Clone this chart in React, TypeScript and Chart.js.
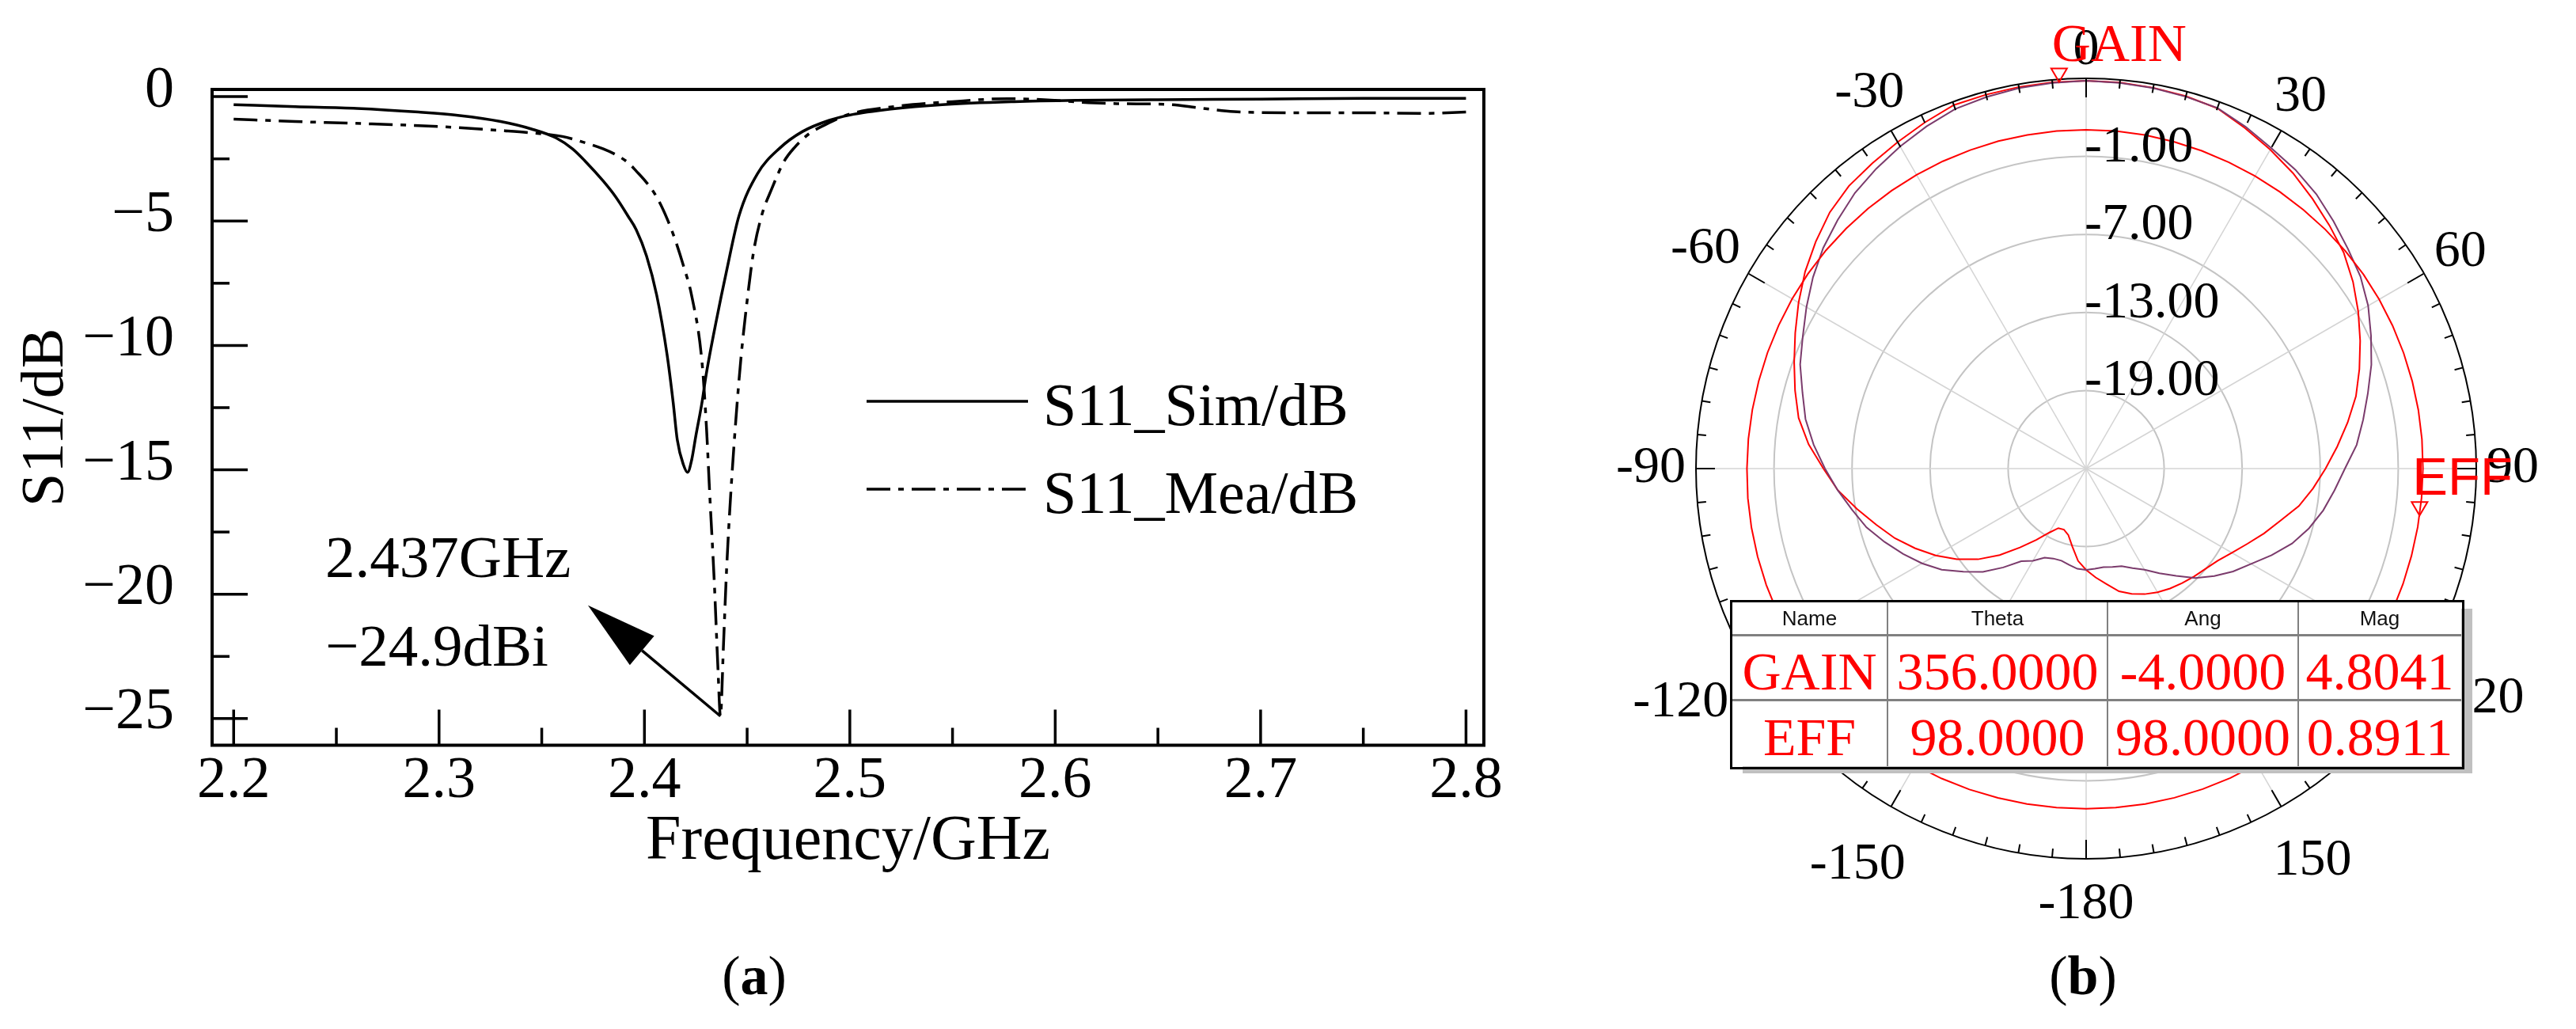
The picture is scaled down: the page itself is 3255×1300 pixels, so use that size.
import React, { useEffect, useRef } from 'react';
import { Chart, registerables } from 'chart.js';

Chart.register(...registerables);

const SERIF = '"Liberation Serif", "Times New Roman", serif';
const SANS = '"Liberation Sans", Arial, sans-serif';

// ---------------- Panel (a): S11 vs frequency ----------------
const freqSim = [2.2, 2.23, 2.26, 2.29, 2.31, 2.33, 2.345, 2.357, 2.365, 2.371, 2.38, 2.386, 2.392, 2.396, 2.401, 2.406, 2.411, 2.414, 2.416, 2.419, 2.421, 2.423, 2.425, 2.428, 2.43, 2.435, 2.44, 2.446, 2.455, 2.466, 2.477, 2.49, 2.5, 2.52, 2.545, 2.58, 2.61, 2.65, 2.7, 2.75, 2.8];
const s11Sim = [-0.32, -0.4, -0.47, -0.62, -0.76, -1.0, -1.3, -1.66, -2.1, -2.58, -3.4, -4.03, -4.8, -5.35, -6.4, -7.99, -10.36, -12.3, -13.8, -14.8, -15.1, -14.6, -13.65, -12.3, -11.2, -9.0, -7.0, -4.8, -3.1, -2.06, -1.4, -0.95, -0.74, -0.5, -0.32, -0.2, -0.15, -0.12, -0.1, -0.07, -0.07];

const freqMea = [2.2, 2.23, 2.258, 2.3, 2.332, 2.347, 2.36, 2.369, 2.38, 2.386, 2.392, 2.396, 2.401, 2.406, 2.411, 2.415, 2.419, 2.423, 2.428, 2.4302, 2.4318, 2.434, 2.4358, 2.437, 2.4385, 2.44, 2.442, 2.4445, 2.447, 2.45, 2.453, 2.457, 2.462, 2.468, 2.473, 2.48, 2.488, 2.5, 2.5215, 2.55, 2.577, 2.6, 2.61, 2.63, 2.654, 2.67, 2.687, 2.72, 2.75, 2.78, 2.8];
const s11Mea = [-0.9, -1.0, -1.07, -1.2, -1.37, -1.47, -1.6, -1.8, -2.1, -2.33, -2.65, -2.99, -3.45, -4.04, -4.9, -5.76, -6.8, -8.0, -10.65, -13.3, -16.0, -19.5, -23.0, -24.9, -22.0, -19.0, -16.0, -13.0, -10.5, -8.2, -6.3, -4.8, -3.7, -2.6, -2.05, -1.5, -1.13, -0.7, -0.4, -0.2, -0.08, -0.15, -0.21, -0.28, -0.31, -0.45, -0.6, -0.65, -0.65, -0.67, -0.62];

const seriesNames = ['S11_Sim/dB', 'S11_Mea/dB'];
const xTicks = [2.2, 2.3, 2.4, 2.5, 2.6, 2.7, 2.8];
const xMinorTicks = [2.25, 2.35, 2.45, 2.55, 2.65, 2.75];
const yTicks = [0, -5, -10, -15, -20, -25];
const yMinorTicks = [-2.5, -7.5, -12.5, -17.5, -22.5];
const xRange = [2.1895, 2.8087];
const yRange = [-26.07, 0.29];
const arrowTail = [2.437, -24.9];
const arrowTip = [2.3725, -20.45];
const annotationText = ['2.437GHz', '\u221224.9dBi'];
const dashDot = [30, 10, 7, 10];

const fmtMinus = (v: number) => (v < 0 ? '\u2212' + Math.abs(v) : String(v));

const panelAPlugin = {
  id: 'panelADeco',
  afterDraw(chart: any) {
    const { ctx, chartArea: ca } = chart;
    const xs = chart.scales.x;
    const ys = chart.scales.y;
    ctx.save();
    ctx.strokeStyle = '#000';
    ctx.fillStyle = '#000';
    ctx.lineCap = 'butt';
    // frame
    ctx.lineWidth = 4;
    ctx.strokeRect(ca.left, ca.top, ca.right - ca.left, ca.bottom - ca.top);
    // inward ticks
    ctx.lineWidth = 3.5;
    const seg = (x1: number, y1: number, x2: number, y2: number) => {
      ctx.beginPath();
      ctx.moveTo(x1, y1);
      ctx.lineTo(x2, y2);
      ctx.stroke();
    };
    yTicks.forEach((v) => { const p = ys.getPixelForValue(v); seg(ca.left, p, ca.left + 45, p); });
    yMinorTicks.forEach((v) => { const p = ys.getPixelForValue(v); seg(ca.left, p, ca.left + 22, p); });
    xTicks.forEach((v) => { const p = xs.getPixelForValue(v); seg(p, ca.bottom, p, ca.bottom - 45); });
    xMinorTicks.forEach((v) => { const p = xs.getPixelForValue(v); seg(p, ca.bottom, p, ca.bottom - 22); });

    // legend
    const lx0 = 1095, lx1 = 1299, ly = [507, 618];
    ctx.font = `76px ${SERIF}`;
    ctx.textAlign = 'left';
    ctx.textBaseline = 'alphabetic';
    seriesNames.forEach((name, i) => {
      ctx.setLineDash(i === 0 ? [] : dashDot);
      ctx.lineWidth = 3.5;
      seg(lx0, ly[i], lx1, ly[i]);
      ctx.setLineDash([]);
      ctx.fillText(name, 1318, ly[i] + 30);
    });

    // annotation arrow
    const t = { x: xs.getPixelForValue(arrowTail[0]), y: ys.getPixelForValue(arrowTail[1]) };
    const h = { x: xs.getPixelForValue(arrowTip[0]), y: ys.getPixelForValue(arrowTip[1]) };
    const ang = Math.atan2(h.y - t.y, h.x - t.x);
    const L = 89, W = 24;
    const bx = h.x - L * Math.cos(ang);
    const by = h.y - L * Math.sin(ang);
    ctx.lineWidth = 3.5;
    seg(t.x, t.y, bx, by);
    ctx.beginPath();
    ctx.moveTo(h.x, h.y);
    ctx.lineTo(bx + W * Math.sin(ang), by - W * Math.cos(ang));
    ctx.lineTo(bx - W * Math.sin(ang), by + W * Math.cos(ang));
    ctx.closePath();
    ctx.fill();

    ctx.font = `75px ${SERIF}`;
    ctx.fillText(annotationText[0], 411, 729);
    ctx.fillText(annotationText[1], 411, 841);
    ctx.restore();
  },
};

function PanelA() {
  const ref = useRef<HTMLCanvasElement>(null);
  useEffect(() => {
    const chart = new Chart(ref.current as HTMLCanvasElement, {
      type: 'line',
      data: {
        datasets: [
          {
            label: seriesNames[0],
            data: freqSim.map((f, i) => ({ x: f, y: s11Sim[i] })),
            borderColor: '#000',
            backgroundColor: '#000',
            borderWidth: 3.5,
            pointRadius: 0,
            cubicInterpolationMode: 'monotone',
          },
          {
            label: seriesNames[1],
            data: freqMea.map((f, i) => ({ x: f, y: s11Mea[i] })),
            borderColor: '#000',
            backgroundColor: '#000',
            borderWidth: 3.5,
            borderDash: dashDot,
            pointRadius: 0,
            cubicInterpolationMode: 'monotone',
          },
        ],
      },
      options: {
        responsive: false,
        animation: false,
        layout: { padding: { left: 0, top: 113, right: 75, bottom: 0 } },
        plugins: { legend: { display: false }, tooltip: { enabled: false } },
        scales: {
          x: {
            type: 'linear',
            min: xRange[0],
            max: xRange[1],
            afterBuildTicks: (s: any) => { s.ticks = xTicks.map((v) => ({ value: v })); },
            afterFit: (s: any) => { s.height = 358.5; },
            grid: { display: false, drawTicks: false },
            border: { display: false },
            ticks: {
              autoSkip: false,
              maxRotation: 0,
              padding: 2,
              color: '#000',
              font: { family: SERIF, size: 74 },
              callback: (v: any) => Number(v).toFixed(1),
            },
            title: {
              display: true,
              text: 'Frequency/GHz',
              color: '#000',
              font: { family: SERIF, size: 80 },
              padding: { top: 0, bottom: 188 },
            },
          },
          y: {
            type: 'linear',
            min: yRange[0],
            max: yRange[1],
            afterBuildTicks: (s: any) => { s.ticks = yTicks.map((v) => ({ value: v })); },
            afterFit: (s: any) => { s.width = 268; },
            grid: { display: false, drawTicks: false },
            border: { display: false },
            ticks: {
              autoSkip: false,
              padding: 48,
              labelOffset: -7,
              color: '#000',
              font: { family: SERIF, size: 74 },
              callback: (v: any) => fmtMinus(Number(v)),
            },
            title: {
              display: true,
              text: 'S11/dB',
              color: '#000',
              font: { family: SERIF, size: 76 },
              padding: { top: 13, bottom: 0 },
            },
          },
        },
      } as any,
      plugins: [panelAPlugin],
    });
    return () => chart.destroy();
  }, []);
  return <canvas ref={ref} width={1950} height={1300} style={{ position: 'absolute', left: 0, top: 0 }} />;
}

// ---------------- Panel (b): polar radiation pattern ----------------
const polarAngles = [0, 5, 10, 15, 20, 25, 30, 35, 40, 45, 50, 55, 60, 65, 70, 75, 80, 85, 90, 95, 100, 105, 110, 115, 120, 125, 130, 135, 140, 145, 150, 155, 160, 165, 170, 175, -180, -175, -170, -165, -160, -155, -150, -145, -140, -135, -130, -125, -120, -115, -110, -105, -100, -95, -90, -85, -80, -75, -70, -65, -60, -55, -50, -45, -40, -35, -30, -25, -20, -15, -10, -5];

const gainCut = [4.82, 4.79, 4.73, 4.64, 4.48, 3.89, 3.31, 2.73, 2.08, 1.45, 0.85, 0.05, -0.84, -1.75, -2.64, -3.52, -4.58, -5.62, -6.59, -7.49, -8.39, -9.53, -10.44, -11.32, -12.06, -12.65, -13.02, -13.27, -13.51, -13.75, -14.02, -14.35, -14.76, -15.23, -15.99, -16.6, -17.21, -17.88, -18.91, -19.71, -20.01, -19.95, -19.31, -18.31, -17.09, -15.6, -14.15, -12.86, -11.64, -10.5, -9.35, -8.3, -7.11, -5.84, -4.8, -3.58, -2.55, -1.83, -1.11, -0.32, 0.53, 1.38, 2.14, 2.87, 3.37, 3.66, 3.98, 4.36, 4.74, 4.76, 4.79, 4.81];

const gainCut2 = [4.82, 4.76, 4.7, 4.6, 4.51, 4.0, 3.46, 3.05, 2.54, 1.9, 1.28, 0.75, 0.04, -0.83, -1.66, -2.57, -3.37, -4.12, -5.1, -5.83, -6.49, -7.26, -8.15, -9.26, -10.35, -11.21, -12.14, -13.11, -14.23, -15.18, -16.02, -16.55, -17.02, -17.17, -17.3, -17.27, -17.21, -17.27, -17.48, -17.67, -17.64, -17.45, -16.82, -16.3, -15.08, -13.77, -12.68, -11.44, -10.43, -9.48, -8.51, -7.52, -6.73, -5.83, -4.92, -3.97, -3.09, -2.42, -1.6, -0.96, -0.17, 0.64, 1.39, 2.02, 2.66, 3.14, 3.6, 4.03, 4.42, 4.58, 4.7, 4.76];

const effCut = [1.05, 1.05, 1.04, 1.02, 1.0, 0.98, 0.97, 0.97, 0.98, 1.0, 1.02, 1.03, 1.02, 1.0, 0.98, 0.96, 0.94, 0.92, 0.9, 0.89, 0.89, 0.9, 0.93, 0.97, 1.02, 1.07, 1.12, 1.17, 1.21, 1.24, 1.25, 1.24, 1.22, 1.2, 1.18, 1.16, 1.15, 1.16, 1.18, 1.21, 1.25, 1.29, 1.32, 1.33, 1.32, 1.3, 1.27, 1.24, 1.21, 1.19, 1.17, 1.15, 1.13, 1.11, 1.08, 1.07, 1.06, 1.06, 1.07, 1.08, 1.1, 1.11, 1.11, 1.1, 1.09, 1.08, 1.07, 1.07, 1.06, 1.06, 1.05, 1.05];

const radialMin = -25;
const radialMax = 5;
const radialStep = 6;
const radialLabelValues = [-1, -7, -13, -19];
const markerNames = ['GAIN', 'EFF'];
const markerTheta = [356, 98];
const markerAng = [-4, 98];
const markerMag = [4.8041, 0.8911];
const tableHeaders = ['Name', 'Theta', 'Ang', 'Mag'];

const polarPlugin = {
  id: 'polarDeco',
  afterDraw(chart: any) {
    const s = chart.scales.r;
    const ctx = chart.ctx;
    const cx = s.xCenter;
    const cy = s.yCenter;
    const R = s.getDistanceFromCenterForValue(radialMax);
    ctx.save();
    // ticks on outer circle
    ctx.strokeStyle = '#000';
    ctx.lineWidth = 2;
    polarAngles.forEach((deg, i) => {
      const len = deg % 30 === 0 ? 24 : 11;
      const a = s.getPointPosition(i, R);
      const b = s.getPointPosition(i, R - len);
      ctx.beginPath();
      ctx.moveTo(a.x, a.y);
      ctx.lineTo(b.x, b.y);
      ctx.stroke();
    });
    // angular labels
    const fs = 66;
    ctx.font = `${fs}px ${SERIF}`;
    ctx.fillStyle = '#000';
    ctx.textAlign = 'center';
    ctx.textBaseline = 'middle';
    polarAngles.forEach((deg, i) => {
      if (deg % 30 !== 0) return;
      const text = String(deg);
      const w = ctx.measureText(text).width;
      const hh = fs * 0.68;
      const ang = s.getIndexAngle(i);
      const ext = Math.abs(Math.sin(ang)) * w / 2 + Math.abs(Math.cos(ang)) * hh / 2;
      const extra = Math.cos(ang) < -0.1 ? 22 : 0;
      const p = s.getPointPosition(i, R + 13 + ext + extra);
      ctx.fillText(text, p.x, p.y);
    });
    // radial labels
    ctx.textAlign = 'left';
    ctx.textBaseline = 'alphabetic';
    radialLabelValues.forEach((v) => {
      const d = s.getDistanceFromCenterForValue(v);
      ctx.fillText(v.toFixed(2), cx - 2, cy - d + 6);
    });
    // markers
    markerNames.forEach((name, k) => {
      const idx = markerTheta[k] / 5;
      const d = s.getDistanceFromCenterForValue(markerMag[k]);
      const p = s.getPointPosition(idx, d);
      ctx.strokeStyle = '#ff0000';
      ctx.lineWidth = 2;
      ctx.beginPath();
      ctx.moveTo(p.x, p.y);
      ctx.lineTo(p.x - 10, p.y - 17);
      ctx.lineTo(p.x + 10, p.y - 17);
      ctx.closePath();
      ctx.stroke();
      ctx.fillStyle = '#ff0000';
      ctx.font = k === 0 ? `68px ${SERIF}` : `67px ${SANS}`;
      ctx.fillText(name, p.x - 9, p.y - 26);
    });
    ctx.restore();
  },
};

function PanelB() {
  const ref = useRef<HTMLCanvasElement>(null);
  useEffect(() => {
    const chart = new Chart(ref.current as HTMLCanvasElement, {
      type: 'radar',
      data: {
        labels: polarAngles.map(String),
        datasets: [
          { label: 'EFF', data: effCut, borderColor: '#ff0000', backgroundColor: 'transparent', borderWidth: 2, fill: false },
          { label: 'GAIN2', data: gainCut2, borderColor: '#7b3b6c', backgroundColor: 'transparent', borderWidth: 2, fill: false },
          { label: 'GAIN', data: gainCut, borderColor: '#ff0000', backgroundColor: 'transparent', borderWidth: 2, fill: false },
        ],
      },
      options: {
        responsive: false,
        animation: false,
        layout: { padding: { left: 193, top: 99, right: 126, bottom: 215 } },
        elements: { line: { tension: 0 }, point: { radius: 0, hoverRadius: 0, hitRadius: 0 } },
        plugins: { legend: { display: false }, tooltip: { enabled: false } },
        scales: {
          r: {
            min: radialMin,
            max: radialMax,
            startAngle: 0,
            ticks: { stepSize: radialStep, display: false },
            pointLabels: { display: false },
            grid: {
              circular: true,
              color: (c: any) => (c.tick && c.tick.value === radialMax ? '#000' : '#c4c4c4'),
              lineWidth: 2,
            },
            angleLines: {
              color: '#d4d4d4',
              lineWidth: (c: any) => (polarAngles[c.index] % 30 === 0 ? 1.5 : 0),
            },
          },
        },
      } as any,
      plugins: [polarPlugin],
    });
    return () => chart.destroy();
  }, []);
  return <canvas ref={ref} width={1305} height={1300} style={{ position: 'absolute', left: 1950, top: 0 }} />;
}

function MarkerTable() {
  const colEdges = [0, 197, 475, 716, 922];
  const rowEdges = [0, 42, 124, 208];
  const rows = markerNames.map((n, k) => [n, markerTheta[k].toFixed(4), markerAng[k].toFixed(4), markerMag[k].toFixed(4)]);
  const cells: any[] = [];
  tableHeaders.forEach((hname, c) => {
    cells.push(
      <div key={'h' + c} style={{ position: 'absolute', left: colEdges[c], top: rowEdges[0], width: colEdges[c + 1] - colEdges[c], height: rowEdges[1] - rowEdges[0], display: 'flex', alignItems: 'center', justifyContent: 'center', font: `26px ${SANS}`, color: '#111' }}>{hname}</div>
    );
  });
  rows.forEach((r, ri) => {
    r.forEach((txt, c) => {
      cells.push(
        <div key={'r' + ri + c} style={{ position: 'absolute', left: colEdges[c], top: rowEdges[ri + 1], width: colEdges[c + 1] - colEdges[c], height: rowEdges[ri + 2] - rowEdges[ri + 1], display: 'flex', alignItems: 'center', justifyContent: 'center', paddingTop: 10, boxSizing: 'border-box', font: `68px ${SERIF}`, color: '#ff0000', whiteSpace: 'nowrap' }}>{txt}</div>
      );
    });
  });
  const lines: any[] = [];
  colEdges.slice(1, -1).forEach((x, i) => lines.push(<div key={'vc' + i} style={{ position: 'absolute', left: x - 1, top: 0, width: 2, height: 208, background: '#808080' }} />));
  rowEdges.slice(1, -1).forEach((y, i) => lines.push(<div key={'hr' + i} style={{ position: 'absolute', left: 0, top: y - 1, width: 922, height: 3, background: '#808080' }} />));
  return (
    <div style={{ position: 'absolute', left: 2188, top: 760, width: 922, height: 208, background: '#fff', boxShadow: '14px 9px 0 #c0c0c0' }}>
      {lines}
      {cells}
      <div style={{ position: 'absolute', left: -2, top: -2, width: 922, height: 208, border: '3px solid #000', boxSizing: 'content-box', pointerEvents: 'none', marginLeft: 0 }} />
    </div>
  );
}

export default function App() {
  return (
    <div style={{ position: 'absolute', left: 0, top: 0, width: 3255, height: 1300, background: '#fff', overflow: 'hidden' }}>
      <PanelA />
      <PanelB />
      <MarkerTable />
      <div style={{ position: 'absolute', left: 853, top: 1198, width: 200, textAlign: 'center', font: `70px ${SERIF}`, lineHeight: '70px', color: '#000' }}>(<b>a</b>)</div>
      <div style={{ position: 'absolute', left: 2532, top: 1198, width: 200, textAlign: 'center', font: `70px ${SERIF}`, lineHeight: '70px', color: '#000' }}>(<b>b</b>)</div>
    </div>
  );
}
